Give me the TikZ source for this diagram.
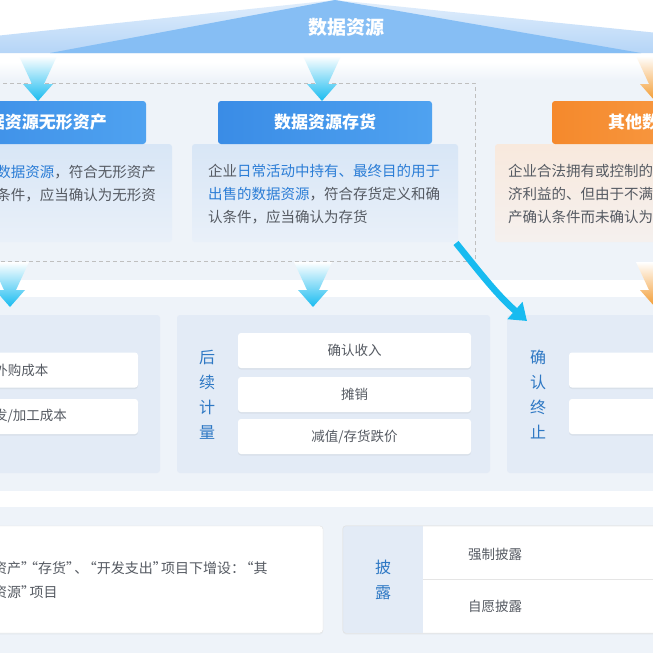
\documentclass[tikz,border=0pt]{standalone}
\usepackage{fontspec}
\setmainfont{Noto Sans CJK SC}
\usetikzlibrary{arrows.meta,shadows}
\definecolor{pagebg}{HTML}{EEF3F9}
\definecolor{cardblue}{HTML}{E3EBF6}
\definecolor{roofblue}{HTML}{4C9DEE}
\definecolor{roofedge}{HTML}{86BEF4}
\definecolor{roofwing}{HTML}{B5D5F7}
\definecolor{headblue}{HTML}{3A8CE6}
\definecolor{headblueB}{HTML}{4FA2F0}
\definecolor{headorange}{HTML}{F5892C}
\definecolor{headorangeB}{HTML}{F9A24F}
\definecolor{arrowcyan}{HTML}{18BBF0}
\definecolor{arroworange}{HTML}{F39A2E}
\definecolor{bodygray}{HTML}{555A62}
\definecolor{hiblue}{HTML}{2B7DD6}
\definecolor{labelblue}{HTML}{2E78C4}
\definecolor{descblue}{HTML}{D8E6F6}
\definecolor{descblueB}{HTML}{E9F0F9}
\definecolor{descpeach}{HTML}{F8E9DD}
\definecolor{descpeachB}{HTML}{F5F0EE}
% narrower CJK quotes
\newcommand\qopen{\makebox[0.6em][r]{“}}
\newcommand\qclose{\makebox[0.6em][l]{”}}

\begin{document}
\begin{tikzpicture}[
  x=1pt,
  y=-1pt,
  line join=round,
  headbox/.style={rounded corners=3pt,left color=headblue,right color=headblueB,text=white,
    font=\fontsize{17}{17}\selectfont\bfseries,minimum width=214pt,minimum height=43pt,inner sep=0pt},
  headorangebox/.style={headbox,left color=headorange,right color=headorangeB},
  desccard/.style={rounded corners=3pt,top color=descblue,bottom color=descblueB,
    minimum width=266pt,minimum height=98pt,inner sep=0pt},
  bodytext/.style={text=bodygray,font=\fontsize{14.5}{23}\selectfont,inner sep=0pt,align=left},
  panelcard/.style={rounded corners=3pt,fill=cardblue,minimum width=313pt,minimum height=158pt,inner sep=0pt},
  itembox/.style={rounded corners=3pt,fill=white,minimum width=233pt,minimum height=35pt,inner sep=0pt,
    drop shadow={shadow xshift=0pt,shadow yshift=-1.5pt,opacity=0.10},
    text=bodygray,font=\fontsize{13.5}{13.5}\selectfont},
  notebox/.style={rounded corners=3pt,fill=white,draw=black!12,minimum height=107pt,inner sep=0pt,
    drop shadow={shadow xshift=0pt,shadow yshift=-1.5pt,opacity=0.06}},
  vlabel/.style={text=labelblue,font=\fontsize{16}{25}\selectfont,align=center,inner sep=0pt}
]
  \useasboundingbox (0,0) rectangle (653,653);
  \clip (0,0) rectangle (653,653);

  % page background and white separator bands
  \fill[pagebg] (0,0) rectangle (653,653);
  \fill[white] (0,0) rectangle (653,62);
  \shade[top color=white,bottom color=pagebg] (0,62) rectangle (653,80);
  \fill[white] (0,280) rectangle (653,297);
  \fill[white] (0,491) rectangle (653,507);

  % roof
  \shade[top color=roofwing!40,bottom color=roofwing] (335,0) -- (-5,36) -- (-5,53) -- (658,53) -- (658,33) -- cycle;
  \shade[left color=roofedge,middle color=roofblue,right color=roofedge] (335,0) -- (50,53) -- (641,53) -- cycle;
  \node[text=white,font=\fontsize{19}{19}\selectfont\bfseries] (rooftitle) at (346,27) {数据资源};

  % recognition group
  \draw[black!25,dash pattern=on 4pt off 3pt] (-10,83) rectangle (475,261);

  \node[desccard] (cardleft) at (39,193) {};
  \node[desccard] (cardmid) at (325,193) {};
  \node[desccard,minimum width=330pt,top color=descpeach,bottom color=descpeachB] (cardright) at (660,193) {};

  \node[headbox] (headleft) at (39,122.5) {数据资源无形资产};
  \node[headbox] (headmid) at (325,122.5) {数据资源存货};
  \node[headorangebox] (headright) at (659,122.5) {其他数据资源};

  \node[bodytext,anchor=east] (textleft) at (156,183.5)
    {{\color{hiblue}数据资源}，符合无形资产\\条件，应当确认为无形资};
  \node[bodytext,anchor=west] (textmid) at (208,194)
    {企业{\color{hiblue}日常活动中持有、最终目的用于}\\{\color{hiblue}出售的数据资源}，符合存货定义和确\\认条件，应当确认为存货};
  \node[bodytext,anchor=west] (textright) at (508,194)
    {企业合法拥有或控制的\\济利益的、但由于不满\\产确认条件而未确认为};

  % measurement panels
  \node[panelcard] (measureleft) at (3.5,394) {};
  \node[panelcard] (measuremid) at (333.5,394) {};
  \node[panelcard] (measureright) at (663.5,394) {};

  \node[itembox] (buycost) at (21.5,370) {外购成本};
  \node[itembox] (devcost) at (21.5,416.5) {};
  \node[text=bodygray,font=\fontsize{13.5}{13.5}\selectfont,inner sep=0pt,anchor=east] (devcosttext) at (67,416.5) {发/加工成本};

  \node[vlabel] (laterlabel) at (207,394.5) {后\\续\\计\\量};
  \node[itembox] (revenue) at (354.5,350.5) {确认收入};
  \node[itembox] (amortize) at (354.5,394.5) {摊销};
  \node[itembox] (impair) at (354.5,436.5) {减值/存货跌价};

  \node[vlabel] (endlabel) at (538,394.5) {确\\认\\终\\止};
  \node[itembox] (endone) at (685.5,370) {};
  \node[itembox] (endtwo) at (685.5,416.5) {};

  % flow arrows
  \foreach \ax/\ay/\col in {38/56/arrowcyan,322/56/arrowcyan,655/56/arroworange,
                            10/262/arrowcyan,313/262/arrowcyan,655/262/arroworange} {
    \shade[top color=white,middle color=\col!85,bottom color=\col]
      ({\ax-19},\ay) -- ({\ax+19},\ay) -- ({\ax+6},{\ay+28}) -- ({\ax+15},{\ay+28})
      -- (\ax,{\ay+45}) -- ({\ax-15},{\ay+28}) -- ({\ax-6},{\ay+28}) -- cycle;
  }
  \draw[arrowcyan,line width=6.5pt,-{Triangle[length=16pt,width=22pt]}]
    (456,243) .. controls (478,270) and (496,294) .. (527,321);

  % disclosure row
  \node[notebox,minimum width=343pt] (noteleft) at (151.5,579.5) {};
  \node[bodytext,font=\fontsize{14}{24}\selectfont,anchor=west] (notetext) at (-7,580)
    {资产\qclose\qopen 存货\qclose 、\qopen 开发支出\qclose 项目下增设：\qopen 其\\资源\qclose 项目};

  \node[notebox,minimum width=460pt] (disclose) at (573,579.5) {};
  \begin{scope}
    \clip[rounded corners=3pt] (disclose.north west) rectangle (disclose.south east);
    \node[fill=cardblue,minimum width=80pt,minimum height=107pt,inner sep=0pt,vlabel] (discloselabel) at (383,579.5) {披\\露};
  \end{scope}
  \draw[black!12,rounded corners=3pt] (disclose.north west) rectangle (disclose.south east);
  \draw[black!10] (discloselabel.east) -- (disclose.east);
  \node[text=bodygray,font=\fontsize{13.5}{13.5}\selectfont] (mandatory) at (495,554) {强制披露};
  \node[text=bodygray,font=\fontsize{13.5}{13.5}\selectfont] (voluntary) at (495,606) {自愿披露};
\end{tikzpicture}
\end{document}
